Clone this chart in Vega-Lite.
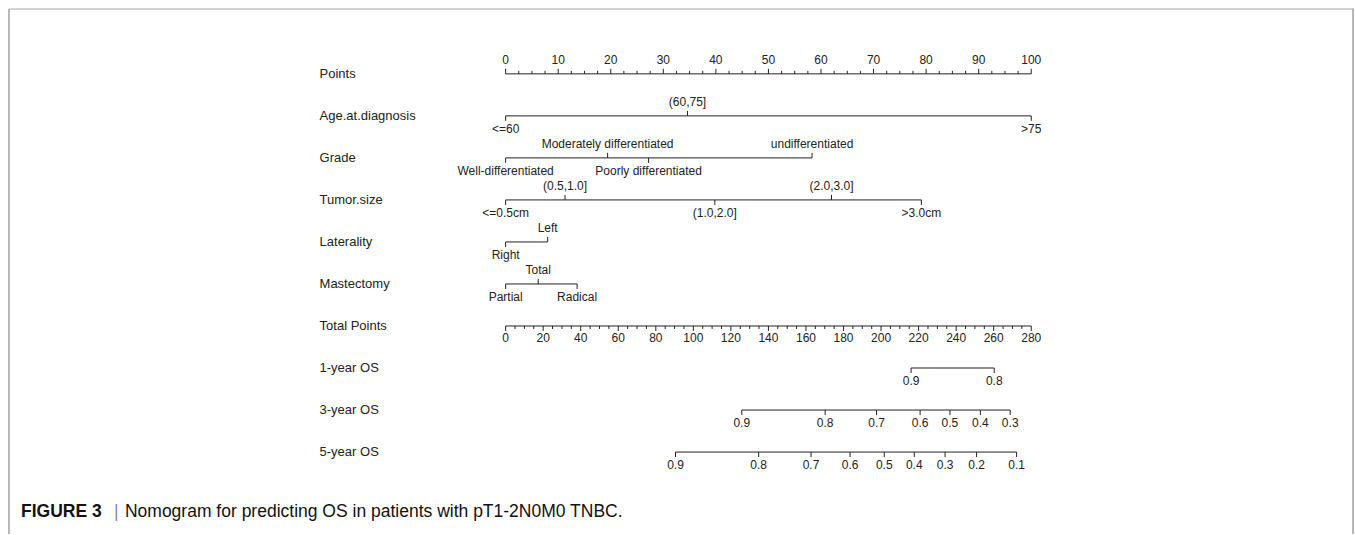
{
  "$schema": "https://vega.github.io/schema/vega-lite/v6.json",
  "width": 1355,
  "height": 535,
  "autosize": {"type": "fit", "contains": "padding"},
  "padding": 0,
  "background": "white",
  "config": {"view": {"stroke": null}, "text": {"font": "Liberation Sans", "color": "#222222"}},
  "datasets": {
    "one": [{"item": "frame"}],
    "rowlabels": [
      {"row": 0, "name": "Points"},
      {"row": 1, "name": "Age.at.diagnosis"},
      {"row": 2, "name": "Grade"},
      {"row": 3, "name": "Tumor.size"},
      {"row": 4, "name": "Laterality"},
      {"row": 5, "name": "Mastectomy"},
      {"row": 6, "name": "Total Points"},
      {"row": 7, "name": "1-year OS"},
      {"row": 8, "name": "3-year OS"},
      {"row": 9, "name": "5-year OS"}
    ],
    "pointsAxis": [
      {"row": 0, "v": 0, "kind": "major"}, {"row": 0, "v": 2.5, "kind": "minor"}, {"row": 0, "v": 5, "kind": "minor"}, {"row": 0, "v": 7.5, "kind": "minor"},
      {"row": 0, "v": 10, "kind": "major"}, {"row": 0, "v": 12.5, "kind": "minor"}, {"row": 0, "v": 15, "kind": "minor"}, {"row": 0, "v": 17.5, "kind": "minor"},
      {"row": 0, "v": 20, "kind": "major"}, {"row": 0, "v": 22.5, "kind": "minor"}, {"row": 0, "v": 25, "kind": "minor"}, {"row": 0, "v": 27.5, "kind": "minor"},
      {"row": 0, "v": 30, "kind": "major"}, {"row": 0, "v": 32.5, "kind": "minor"}, {"row": 0, "v": 35, "kind": "minor"}, {"row": 0, "v": 37.5, "kind": "minor"},
      {"row": 0, "v": 40, "kind": "major"}, {"row": 0, "v": 42.5, "kind": "minor"}, {"row": 0, "v": 45, "kind": "minor"}, {"row": 0, "v": 47.5, "kind": "minor"},
      {"row": 0, "v": 50, "kind": "major"}, {"row": 0, "v": 52.5, "kind": "minor"}, {"row": 0, "v": 55, "kind": "minor"}, {"row": 0, "v": 57.5, "kind": "minor"},
      {"row": 0, "v": 60, "kind": "major"}, {"row": 0, "v": 62.5, "kind": "minor"}, {"row": 0, "v": 65, "kind": "minor"}, {"row": 0, "v": 67.5, "kind": "minor"},
      {"row": 0, "v": 70, "kind": "major"}, {"row": 0, "v": 72.5, "kind": "minor"}, {"row": 0, "v": 75, "kind": "minor"}, {"row": 0, "v": 77.5, "kind": "minor"},
      {"row": 0, "v": 80, "kind": "major"}, {"row": 0, "v": 82.5, "kind": "minor"}, {"row": 0, "v": 85, "kind": "minor"}, {"row": 0, "v": 87.5, "kind": "minor"},
      {"row": 0, "v": 90, "kind": "major"}, {"row": 0, "v": 92.5, "kind": "minor"}, {"row": 0, "v": 95, "kind": "minor"}, {"row": 0, "v": 97.5, "kind": "minor"},
      {"row": 0, "v": 100, "kind": "major"}
    ],
    "factors": [
      {"row": 1, "v": 0, "label": "<=60", "pos": "below"},
      {"row": 1, "v": 34.6, "label": "(60,75]", "pos": "above"},
      {"row": 1, "v": 100, "label": ">75", "pos": "below"},
      {"row": 2, "v": 0, "label": "Well-differentiated", "pos": "below"},
      {"row": 2, "v": 19.4, "label": "Moderately differentiated", "pos": "above"},
      {"row": 2, "v": 27.2, "label": "Poorly differentiated", "pos": "below"},
      {"row": 2, "v": 58.3, "label": "undifferentiated", "pos": "above"},
      {"row": 3, "v": 0, "label": "<=0.5cm", "pos": "below"},
      {"row": 3, "v": 11.3, "label": "(0.5,1.0]", "pos": "above"},
      {"row": 3, "v": 39.8, "label": "(1.0,2.0]", "pos": "below"},
      {"row": 3, "v": 62.0, "label": "(2.0,3.0]", "pos": "above"},
      {"row": 3, "v": 79.1, "label": ">3.0cm", "pos": "below"},
      {"row": 4, "v": 0, "label": "Right", "pos": "below"},
      {"row": 4, "v": 8.0, "label": "Left", "pos": "above"},
      {"row": 5, "v": 0, "label": "Partial", "pos": "below"},
      {"row": 5, "v": 6.2, "label": "Total", "pos": "above"},
      {"row": 5, "v": 13.6, "label": "Radical", "pos": "below"}
    ],
    "totalAxis": [
      {"row": 6, "v": 0, "kind": "major"}, {"row": 6, "v": 5, "kind": "minor"}, {"row": 6, "v": 10, "kind": "minor"}, {"row": 6, "v": 15, "kind": "minor"},
      {"row": 6, "v": 20, "kind": "major"}, {"row": 6, "v": 25, "kind": "minor"}, {"row": 6, "v": 30, "kind": "minor"}, {"row": 6, "v": 35, "kind": "minor"},
      {"row": 6, "v": 40, "kind": "major"}, {"row": 6, "v": 45, "kind": "minor"}, {"row": 6, "v": 50, "kind": "minor"}, {"row": 6, "v": 55, "kind": "minor"},
      {"row": 6, "v": 60, "kind": "major"}, {"row": 6, "v": 65, "kind": "minor"}, {"row": 6, "v": 70, "kind": "minor"}, {"row": 6, "v": 75, "kind": "minor"},
      {"row": 6, "v": 80, "kind": "major"}, {"row": 6, "v": 85, "kind": "minor"}, {"row": 6, "v": 90, "kind": "minor"}, {"row": 6, "v": 95, "kind": "minor"},
      {"row": 6, "v": 100, "kind": "major"}, {"row": 6, "v": 105, "kind": "minor"}, {"row": 6, "v": 110, "kind": "minor"}, {"row": 6, "v": 115, "kind": "minor"},
      {"row": 6, "v": 120, "kind": "major"}, {"row": 6, "v": 125, "kind": "minor"}, {"row": 6, "v": 130, "kind": "minor"}, {"row": 6, "v": 135, "kind": "minor"},
      {"row": 6, "v": 140, "kind": "major"}, {"row": 6, "v": 145, "kind": "minor"}, {"row": 6, "v": 150, "kind": "minor"}, {"row": 6, "v": 155, "kind": "minor"},
      {"row": 6, "v": 160, "kind": "major"}, {"row": 6, "v": 165, "kind": "minor"}, {"row": 6, "v": 170, "kind": "minor"}, {"row": 6, "v": 175, "kind": "minor"},
      {"row": 6, "v": 180, "kind": "major"}, {"row": 6, "v": 185, "kind": "minor"}, {"row": 6, "v": 190, "kind": "minor"}, {"row": 6, "v": 195, "kind": "minor"},
      {"row": 6, "v": 200, "kind": "major"}, {"row": 6, "v": 205, "kind": "minor"}, {"row": 6, "v": 210, "kind": "minor"}, {"row": 6, "v": 215, "kind": "minor"},
      {"row": 6, "v": 220, "kind": "major"}, {"row": 6, "v": 225, "kind": "minor"}, {"row": 6, "v": 230, "kind": "minor"}, {"row": 6, "v": 235, "kind": "minor"},
      {"row": 6, "v": 240, "kind": "major"}, {"row": 6, "v": 245, "kind": "minor"}, {"row": 6, "v": 250, "kind": "minor"}, {"row": 6, "v": 255, "kind": "minor"},
      {"row": 6, "v": 260, "kind": "major"}, {"row": 6, "v": 265, "kind": "minor"}, {"row": 6, "v": 270, "kind": "minor"}, {"row": 6, "v": 275, "kind": "minor"},
      {"row": 6, "v": 280, "kind": "major"}
    ],
    "os": [
      {"row": 7, "v": 216.0, "label": "0.9"},
      {"row": 7, "v": 260.3, "label": "0.8"},
      {"row": 8, "v": 125.8, "label": "0.9"},
      {"row": 8, "v": 170.2, "label": "0.8"},
      {"row": 8, "v": 197.6, "label": "0.7"},
      {"row": 8, "v": 220.8, "label": "0.6"},
      {"row": 8, "v": 236.7, "label": "0.5"},
      {"row": 8, "v": 252.9, "label": "0.4"},
      {"row": 8, "v": 268.8, "label": "0.3"},
      {"row": 9, "v": 90.5, "label": "0.9"},
      {"row": 9, "v": 134.8, "label": "0.8"},
      {"row": 9, "v": 162.7, "label": "0.7"},
      {"row": 9, "v": 183.5, "label": "0.6"},
      {"row": 9, "v": 201.7, "label": "0.5"},
      {"row": 9, "v": 217.7, "label": "0.4"},
      {"row": 9, "v": 234.1, "label": "0.3"},
      {"row": 9, "v": 250.9, "label": "0.2"},
      {"row": 9, "v": 272.2, "label": "0.1"}
    ]
  },
  "resolve": {"scale": {"x": "independent"}},
  "layer": [
    {
      "data": {"name": "one"},
      "mark": {"type": "rule", "color": "#c4c4c4", "strokeWidth": 1.5},
      "encoding": {
        "x": {"datum": -94.49, "type": "quantitative", "scale": {"domain": [-96.198, 161.407], "nice": false, "zero": false}, "axis": null},
        "x2": {"datum": 161.41},
        "y": {"datum": -1.544, "type": "quantitative", "scale": {"domain": [-1.7577, 10.95], "nice": false, "zero": false, "reverse": true}, "axis": null}
      }
    },
    {
      "data": {"name": "one"},
      "mark": {"type": "rule", "color": "#a0a0a0", "strokeWidth": 1.5},
      "encoding": {
        "x": {"datum": -94.49, "type": "quantitative", "scale": {"domain": [-96.198, 161.407], "nice": false, "zero": false}, "axis": null},
        "y": {"datum": -1.544, "type": "quantitative"},
        "y2": {"datum": 10.95}
      }
    },
    {
      "data": {"name": "one"},
      "mark": {"type": "rule", "color": "#a0a0a0", "strokeWidth": 1.5},
      "encoding": {
        "x": {"datum": 161.22, "type": "quantitative", "scale": {"domain": [-96.198, 161.407], "nice": false, "zero": false}, "axis": null},
        "y": {"datum": -1.544, "type": "quantitative"},
        "y2": {"datum": 10.95}
      }
    },
    {
      "data": {"name": "rowlabels"},
      "mark": {"type": "text", "align": "left", "baseline": "middle", "fontSize": 13},
      "encoding": {
        "x": {"datum": -35.4, "type": "quantitative", "scale": {"domain": [-96.198, 161.407], "nice": false, "zero": false}, "axis": null},
        "y": {"field": "row", "type": "quantitative"},
        "text": {"field": "name"}
      }
    },
    {
      "data": {"name": "pointsAxis"},
      "mark": {"type": "rule", "color": "#222222", "strokeWidth": 1},
      "encoding": {
        "x": {"aggregate": "min", "field": "v", "type": "quantitative", "scale": {"domain": [-96.198, 161.407], "nice": false, "zero": false}, "axis": null},
        "x2": {"aggregate": "max", "field": "v"},
        "y": {"field": "row", "type": "quantitative"}
      }
    },
    {
      "data": {"name": "pointsAxis"},
      "transform": [{"filter": "datum.kind === 'major'"}],
      "mark": {"type": "rule", "color": "#222222", "strokeWidth": 1, "y2Offset": -5},
      "encoding": {
        "x": {"field": "v", "type": "quantitative", "scale": {"domain": [-96.198, 161.407], "nice": false, "zero": false}, "axis": null},
        "y": {"field": "row", "type": "quantitative"},
        "y2": {"field": "row"}
      }
    },
    {
      "data": {"name": "pointsAxis"},
      "transform": [{"filter": "datum.kind === 'minor'"}],
      "mark": {"type": "rule", "color": "#222222", "strokeWidth": 1, "y2Offset": -3},
      "encoding": {
        "x": {"field": "v", "type": "quantitative", "scale": {"domain": [-96.198, 161.407], "nice": false, "zero": false}, "axis": null},
        "y": {"field": "row", "type": "quantitative"},
        "y2": {"field": "row"}
      }
    },
    {
      "data": {"name": "pointsAxis"},
      "transform": [{"filter": "datum.kind === 'major'"}],
      "mark": {"type": "text", "align": "center", "baseline": "bottom", "fontSize": 12, "yOffset": -7},
      "encoding": {
        "x": {"field": "v", "type": "quantitative", "scale": {"domain": [-96.198, 161.407], "nice": false, "zero": false}, "axis": null},
        "y": {"field": "row", "type": "quantitative"},
        "text": {"field": "v", "type": "quantitative", "format": "d"}
      }
    },
    {
      "data": {"name": "factors"},
      "mark": {"type": "rule", "color": "#222222", "strokeWidth": 1},
      "encoding": {
        "x": {"aggregate": "min", "field": "v", "type": "quantitative", "scale": {"domain": [-96.198, 161.407], "nice": false, "zero": false}, "axis": null},
        "x2": {"aggregate": "max", "field": "v"},
        "y": {"field": "row", "type": "quantitative"}
      }
    },
    {
      "data": {"name": "factors"},
      "transform": [{"filter": "datum.pos === 'above'"}],
      "mark": {"type": "rule", "color": "#222222", "strokeWidth": 1, "y2Offset": -5},
      "encoding": {
        "x": {"field": "v", "type": "quantitative", "scale": {"domain": [-96.198, 161.407], "nice": false, "zero": false}, "axis": null},
        "y": {"field": "row", "type": "quantitative"},
        "y2": {"field": "row"}
      }
    },
    {
      "data": {"name": "factors"},
      "transform": [{"filter": "datum.pos === 'below'"}],
      "mark": {"type": "rule", "color": "#222222", "strokeWidth": 1, "y2Offset": 5},
      "encoding": {
        "x": {"field": "v", "type": "quantitative", "scale": {"domain": [-96.198, 161.407], "nice": false, "zero": false}, "axis": null},
        "y": {"field": "row", "type": "quantitative"},
        "y2": {"field": "row"}
      }
    },
    {
      "data": {"name": "factors"},
      "transform": [{"filter": "datum.pos === 'above'"}],
      "mark": {"type": "text", "align": "center", "baseline": "bottom", "fontSize": 12, "yOffset": -7},
      "encoding": {
        "x": {"field": "v", "type": "quantitative", "scale": {"domain": [-96.198, 161.407], "nice": false, "zero": false}, "axis": null},
        "y": {"field": "row", "type": "quantitative"},
        "text": {"field": "label"}
      }
    },
    {
      "data": {"name": "factors"},
      "transform": [{"filter": "datum.pos === 'below'"}],
      "mark": {"type": "text", "align": "center", "baseline": "top", "fontSize": 12, "yOffset": 8},
      "encoding": {
        "x": {"field": "v", "type": "quantitative", "scale": {"domain": [-96.198, 161.407], "nice": false, "zero": false}, "axis": null},
        "y": {"field": "row", "type": "quantitative"},
        "text": {"field": "label"}
      }
    },
    {
      "data": {"name": "totalAxis"},
      "mark": {"type": "rule", "color": "#222222", "strokeWidth": 1},
      "encoding": {
        "x": {"aggregate": "min", "field": "v", "type": "quantitative", "scale": {"domain": [-269.35, 451.94], "nice": false, "zero": false}, "axis": null},
        "x2": {"aggregate": "max", "field": "v"},
        "y": {"field": "row", "type": "quantitative"}
      }
    },
    {
      "data": {"name": "totalAxis"},
      "transform": [{"filter": "datum.kind === 'major'"}],
      "mark": {"type": "rule", "color": "#222222", "strokeWidth": 1, "y2Offset": 5},
      "encoding": {
        "x": {"field": "v", "type": "quantitative", "scale": {"domain": [-269.35, 451.94], "nice": false, "zero": false}, "axis": null},
        "y": {"field": "row", "type": "quantitative"},
        "y2": {"field": "row"}
      }
    },
    {
      "data": {"name": "totalAxis"},
      "transform": [{"filter": "datum.kind === 'minor'"}],
      "mark": {"type": "rule", "color": "#222222", "strokeWidth": 1, "y2Offset": 3},
      "encoding": {
        "x": {"field": "v", "type": "quantitative", "scale": {"domain": [-269.35, 451.94], "nice": false, "zero": false}, "axis": null},
        "y": {"field": "row", "type": "quantitative"},
        "y2": {"field": "row"}
      }
    },
    {
      "data": {"name": "totalAxis"},
      "transform": [{"filter": "datum.kind === 'major'"}],
      "mark": {"type": "text", "align": "center", "baseline": "top", "fontSize": 12, "yOffset": 7},
      "encoding": {
        "x": {"field": "v", "type": "quantitative", "scale": {"domain": [-269.35, 451.94], "nice": false, "zero": false}, "axis": null},
        "y": {"field": "row", "type": "quantitative"},
        "text": {"field": "v", "type": "quantitative", "format": "d"}
      }
    },
    {
      "data": {"name": "os"},
      "mark": {"type": "rule", "color": "#222222", "strokeWidth": 1},
      "encoding": {
        "x": {"aggregate": "min", "field": "v", "type": "quantitative", "scale": {"domain": [-269.35, 451.94], "nice": false, "zero": false}, "axis": null},
        "x2": {"aggregate": "max", "field": "v"},
        "y": {"field": "row", "type": "quantitative"}
      }
    },
    {
      "data": {"name": "os"},
      "mark": {"type": "rule", "color": "#222222", "strokeWidth": 1, "y2Offset": 5},
      "encoding": {
        "x": {"field": "v", "type": "quantitative", "scale": {"domain": [-269.35, 451.94], "nice": false, "zero": false}, "axis": null},
        "y": {"field": "row", "type": "quantitative"},
        "y2": {"field": "row"}
      }
    },
    {
      "data": {"name": "os"},
      "mark": {"type": "text", "align": "center", "baseline": "top", "fontSize": 12, "yOffset": 8},
      "encoding": {
        "x": {"field": "v", "type": "quantitative", "scale": {"domain": [-269.35, 451.94], "nice": false, "zero": false}, "axis": null},
        "y": {"field": "row", "type": "quantitative"},
        "text": {"field": "label"}
      }
    },
    {
      "data": {"name": "one"},
      "mark": {"type": "text", "align": "left", "baseline": "middle", "fontSize": 17.5, "fontWeight": "bold", "letterSpacing": 1, "text": "FIGURE 3", "color": "#111111"},
      "encoding": {
        "x": {"datum": -92.2, "type": "quantitative", "scale": {"domain": [-96.198, 161.407], "nice": false, "zero": false}, "axis": null},
        "y": {"datum": 10.43, "type": "quantitative"}
      }
    },
    {
      "data": {"name": "one"},
      "mark": {"type": "text", "align": "left", "baseline": "middle", "fontSize": 17.5, "text": "|", "color": "#888888"},
      "encoding": {
        "x": {"datum": -74.52, "type": "quantitative", "scale": {"domain": [-96.198, 161.407], "nice": false, "zero": false}, "axis": null},
        "y": {"datum": 10.43, "type": "quantitative"}
      }
    },
    {
      "data": {"name": "one"},
      "mark": {"type": "text", "align": "left", "baseline": "middle", "fontSize": 17.5, "text": "Nomogram for predicting OS in patients with pT1-2N0M0 TNBC.", "color": "#111111"},
      "encoding": {
        "x": {"datum": -72.43, "type": "quantitative", "scale": {"domain": [-96.198, 161.407], "nice": false, "zero": false}, "axis": null},
        "y": {"datum": 10.43, "type": "quantitative"}
      }
    }
  ]
}
